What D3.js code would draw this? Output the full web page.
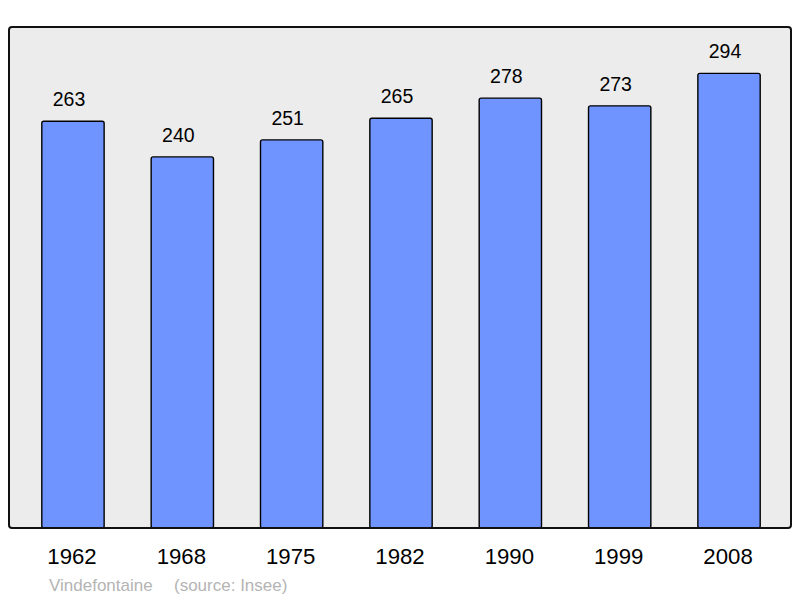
<!DOCTYPE html>
<html><head><meta charset="utf-8">
<script src="https://cdn.jsdelivr.net/npm/d3@7"></script>
<style>body{margin:0;background:#fff}svg{display:block}</style>
</head><body>
<script>
const years = ["1962","1968","1975","1982","1990","1999","2008"];
const population = [263,240,251,265,278,273,294];
const title = "Vindefontaine";
const source = "(source: Insee)";

const W = 800, H = 598;
const svg = d3.select("body").append("svg").attr("width", W).attr("height", H);
const frame = {x0: 9, y0: 27, x1: 791, y1: 528};
const font = "Liberation Sans, Arial, sans-serif";

svg.append("rect").attr("x", frame.x0).attr("y", frame.y0)
  .attr("width", frame.x1 - frame.x0).attr("height", frame.y1 - frame.y0)
  .attr("rx", 3).attr("fill", "#ececec").attr("stroke", "none");

const x = d3.scaleBand().domain(years).range([18.3, 783.7]).paddingInner(0.43).paddingOuter(0.215);
const y = d3.scaleLinear().domain([0, 324]).range([frame.y1, frame.y0]);

const data = years.map((yr, i) => ({yr, v: population[i]}));

svg.selectAll("rect.bar").data(data).enter().append("rect").attr("class","bar")
  .attr("x", d => x(d.yr)).attr("y", d => y(d.v))
  .attr("width", x.bandwidth()).attr("height", d => y(0) - y(d.v))
  .attr("rx", 2).attr("fill", "#7094ff").attr("stroke", "#000").attr("stroke-width", 1.4);

svg.append("rect").attr("x", frame.x0).attr("y", frame.y0)
  .attr("width", frame.x1 - frame.x0).attr("height", frame.y1 - frame.y0)
  .attr("rx", 3).attr("fill", "none").attr("stroke", "#111").attr("stroke-width", 2);

svg.selectAll("text.val").data(data).enter().append("text").attr("class","val")
  .attr("x", d => x(d.yr) + x.bandwidth()/2 - 4).attr("y", d => y(d.v) - 15)
  .attr("text-anchor", "middle").attr("font-family", font)
  .attr("font-size", 19.5).attr("fill", "#000").text(d => d.v);

const xAxis = d3.axisBottom(x).tickSize(0).tickPadding(0);
const ax = svg.append("g").attr("transform", `translate(-1,${frame.y1})`).call(xAxis);
ax.select(".domain").remove();
ax.selectAll("text").attr("y", 36).attr("dy", 0)
  .attr("font-family", font).attr("font-size", 22.2).attr("fill", "#000");

svg.append("text").attr("x", 49).attr("y", 591)
  .attr("font-family", font).attr("font-size", 17).attr("fill", "#b4b4b4").text(title);
svg.append("text").attr("x", 174).attr("y", 591)
  .attr("font-family", font).attr("font-size", 17).attr("fill", "#b4b4b4").text(source);
</script>
</body></html>
